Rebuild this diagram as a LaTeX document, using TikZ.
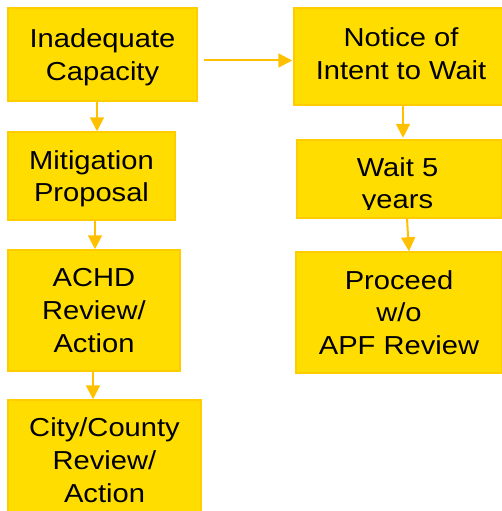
\documentclass[tikz,border=0pt]{standalone}
\usepackage{fontspec}
\setmainfont[FakeStretch=1.12]{Liberation Sans}
\usetikzlibrary{arrows.meta}
\definecolor{boxfill}{RGB}{255,221,0}
\definecolor{boxline}{RGB}{255,204,0}
\definecolor{linkcol}{RGB}{255,192,0}
\tikzset{
  box/.style={draw=boxline, fill=boxfill, line width=1.5pt, inner sep=0pt,
    align=center, text depth=0pt, font=\fontsize{26}{32.6}\selectfont},
  boxtext/.style={inner sep=0pt, align=center, text depth=0pt,
    font=\fontsize{26}{32.6}\selectfont},
  link/.style={draw=linkcol, line width=2pt, -{Triangle[width=14pt,length=14pt]}},
}

\begin{document}
\begin{tikzpicture}[x=1pt,y=-1pt]
      \useasboundingbox (0,0) rectangle (501,511);

      % left column
      \node[box, minimum width=189pt, minimum height=93pt]  (cap)  at (102.5,54.5) {Inadequate\\Capacity};
      \node[box, minimum width=167pt, minimum height=88pt]  (mit)  at (91.5,176)   {Mitigation\\Proposal};
      \node[box, minimum width=172pt, minimum height=121pt] (achd) at (94,310.5)   {ACHD\\Review/\\Action};
      \node[box, minimum width=193pt, minimum height=120pt] (city) at (104.5,460)  {};
      \begin{scope}
        \clip (8,400) rectangle (202,502);
        \node[boxtext] (citytxt) at (104.5,460) {City/County\\Review/\\Action};
      \end{scope}

      % right column
      \node[box, minimum width=214pt, minimum height=97pt]  (notice) at (401,56.5)  {};
      \node[boxtext] (noticetxt) at (401,53.5) {Notice of\\Intent to Wait};
      \node[box, minimum width=205pt, minimum height=78pt]  (wait)   at (399.5,179) {};
      \begin{scope}
        \clip (297,140) rectangle (502,209);
        \node[boxtext] (waittxt) at (397.5,183) {Wait 5\\years};
      \end{scope}
      \node[box, minimum width=206pt, minimum height=121pt] (proc)   at (399,312.5) {Proceed\\w/o\\APF Review};

      \draw[link] ([xshift=-5.5pt]cap.south) -- ([xshift=5.5pt]mit.north);
      \draw[link] ([xshift=3.5pt]mit.south) -- ([xshift=1pt]achd.north);
      \draw[link] ([xshift=-1pt]achd.south) -- ([xshift=-11.5pt]city.north);
      \draw[link, shorten <=6pt, shorten >=1pt] ([yshift=-6pt]cap.east) -- ([yshift=-4pt]notice.west);
      \draw[link, shorten >=1.5pt] ([xshift=2pt]notice.south) -- ([xshift=3.5pt]wait.north);
      \draw[link] ([xshift=7.5pt]wait.south) -- ([xshift=10pt]proc.north);
\end{tikzpicture}
\end{document}
